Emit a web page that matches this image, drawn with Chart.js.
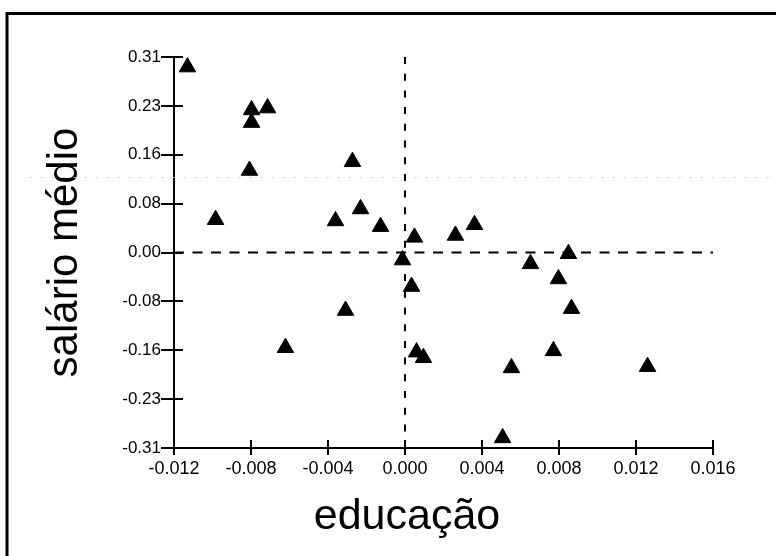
<!DOCTYPE html>
<html>
<head>
<meta charset="utf-8">
<script src="https://cdn.jsdelivr.net/npm/chart.js@4.4.1/dist/chart.umd.min.js"></script>
<style>
  html, body { margin: 0; padding: 0; background: #ffffff; }
  #wrap { width: 776px; height: 556px; }
</style>
</head>
<body>
<div id="wrap"><canvas id="c" width="776" height="556"></canvas></div>
<script>
// ---- data ----
const xValues = [-0.0113, -0.00797, -0.00797, -0.00714, -0.00808, -0.00984, -0.00361, -0.00231, -0.00127, -0.00273,
                 0.00049, -0.00013, 0.00034, 0.00262, 0.00361, 0.00652, 0.00849, 0.00797, 0.00865, -0.00309,
                 -0.00621, 0.0006, 0.00096, 0.00771, 0.00553, 0.0126, 0.00507];
const yValues = [0.294, 0.226, 0.206, 0.229, 0.130, 0.052, 0.050, 0.069, 0.041, 0.144,
                 0.024, -0.012, -0.054, 0.027, 0.044, -0.018, -0.002, -0.042, -0.089, -0.092,
                 -0.151, -0.158, -0.167, -0.156, -0.183, -0.181, -0.294];
const xTickValues = [-0.012, -0.008, -0.004, 0.000, 0.004, 0.008, 0.012, 0.016];
const xTickLabels = ['-0.012', '-0.008', '-0.004', '0.000', '0.004', '0.008', '0.012', '0.016'];
const yTickValues = [-0.31, -0.2325, -0.155, -0.0775, 0, 0.0775, 0.155, 0.2325, 0.31];
const yTickLabels = ['-0.31', '-0.23', '-0.16', '-0.08', '0.00', '0.08', '0.16', '0.23', '0.31'];
const xTitle = 'educação';
const yTitle = 'salário médio';
const scanLineY = 0.119;

const FONT = '"Liberation Sans", Arial, sans-serif';

const points = xValues.map((x, i) => ({ x: x, y: yValues[i] }));

const framePlugin = {
  id: 'frame',
  beforeDraw(chart) {
    const ctx = chart.ctx;
    ctx.save();
    ctx.fillStyle = '#ffffff';
    ctx.fillRect(0, 0, chart.width, chart.height);
    ctx.strokeStyle = '#000000';
    ctx.lineWidth = 3;
    ctx.strokeRect(7, 13.5, 1000, 1000);
    ctx.restore();
  },
  afterDraw(chart) {
    // crossing tick marks on both axes
    const ctx = chart.ctx;
    const xs = chart.scales.x, ys = chart.scales.y;
    const axisX = xs.left, axisY = ys.bottom;
    ctx.save();
    ctx.strokeStyle = '#000000';
    ctx.lineWidth = 2;
    ctx.beginPath();
    yTickValues.forEach(v => {
      const p = Math.round(ys.getPixelForValue(v));
      ctx.moveTo(axisX - 13, p);
      ctx.lineTo(axisX + 9, p);
    });
    xTickValues.forEach(v => {
      const p = Math.round(xs.getPixelForValue(v));
      ctx.moveTo(p, axisY - 8);
      ctx.lineTo(p, axisY + 7);
    });
    ctx.stroke();
    ctx.restore();
  }
};

new Chart(document.getElementById('c'), {
  type: 'scatter',
  data: {
    datasets: [
      {
        label: 'pontos',
        data: points,
        pointStyle: 'triangle',
        pointRadius: 9.5,
        pointHoverRadius: 9.5,
        backgroundColor: '#000000',
        borderColor: '#000000',
        borderWidth: 1
      },
      {
        type: 'line',
        label: 'zero-y',
        data: [{ x: xTickValues[0], y: 0 }, { x: xTickValues[xTickValues.length - 1], y: 0 }],
        borderColor: '#000000',
        borderWidth: 2,
        borderDash: [10, 8.5],
        pointRadius: 0,
        fill: false
      },
      {
        type: 'line',
        label: 'zero-x',
        data: [{ x: 0, y: 0.31 }, { x: 0, y: -0.297 }],
        borderColor: '#000000',
        borderWidth: 2,
        borderDash: [7, 9.7],
        pointRadius: 0,
        fill: false
      },
      {
        type: 'line',
        label: 'scan',
        data: [{ x: -0.0195, y: scanLineY }, { x: 0.0193, y: scanLineY }],
        borderColor: '#c8c8c8',
        borderWidth: 1,
        borderDash: [2, 9],
        pointRadius: 0,
        fill: false,
        clip: false
      }
    ]
  },
  options: {
    responsive: false,
    animation: false,
    events: [],
    layout: { padding: { top: 57, right: 63, bottom: 0, left: 101 } },
    plugins: {
      legend: { display: false },
      tooltip: { enabled: false },
      title: {
        display: true,
        text: xTitle,
        position: 'bottom',
        color: '#000000',
        font: { family: FONT, size: 43, weight: 'normal' },
        padding: { top: 0, bottom: 13.2 }
      }
    },
    scales: {
      x: {
        type: 'linear',
        min: xTickValues[0],
        max: xTickValues[xTickValues.length - 1],
        afterBuildTicks(scale) { scale.ticks = xTickValues.map(v => ({ value: v })); },
        afterFit(scale) { scale.height = 43.2; },
        grid: { display: true, drawOnChartArea: false, drawTicks: false, color: '#000000' },
        border: { display: true, color: '#000000', width: 2 },
        ticks: {
          padding: 10,
          color: '#000000',
          maxRotation: 0,
          autoSkip: false,
          font: { family: FONT, size: 18 },
          callback(value, index) { return xTickLabels[index]; }
        }
      },
      y: {
        type: 'linear',
        min: yTickValues[0],
        max: yTickValues[yTickValues.length - 1],
        afterBuildTicks(scale) { scale.ticks = yTickValues.map(v => ({ value: v })); },
        afterFit(scale) { scale.width = 73; },
        grid: { display: true, drawOnChartArea: false, drawTicks: false, color: '#000000' },
        border: { display: true, color: '#000000', width: 2 },
        title: {
          display: true,
          text: yTitle,
          color: '#000000',
          font: { family: FONT, size: 42, weight: 'normal' },
          padding: { top: -61, bottom: 0 }
        },
        ticks: {
          padding: 13,
          color: '#000000',
          autoSkip: false,
          font: { family: FONT, size: 17 },
          callback(value, index) { return yTickLabels[index]; }
        }
      }
    }
  },
  plugins: [framePlugin]
});
</script>
</body>
</html>
